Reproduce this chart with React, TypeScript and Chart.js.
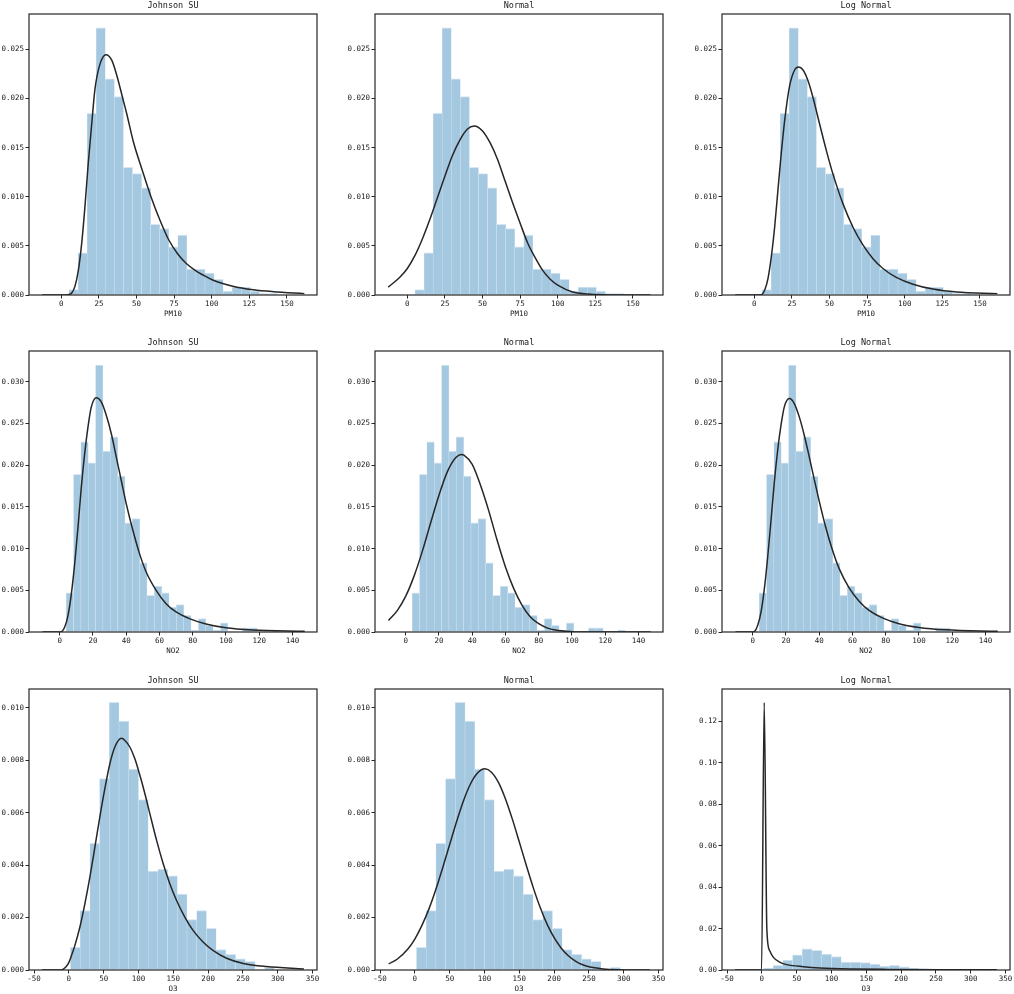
import React, { useEffect, useRef } from 'react';
import { Chart, registerables } from 'chart.js';

Chart.register(...registerables);

// ---------- PM10 ----------
const PM10_BIN_START = 5.1;
const PM10_BIN_WIDTH = 6.03;
const PM10_DENSITY = [0.00055, 0.0043, 0.0185, 0.0272, 0.022, 0.0202, 0.013, 0.01235, 0.0109, 0.0072, 0.00675, 0.0049, 0.0061, 0.00265, 0.00265, 0.00224, 0.0016, 0.0004, 0.0008, 0.0008, 0.0004, 0.00014, 0.00014];

const PM10_JSU_X = [-12.7, 0, 4.5, 6.9, 9.1, 11.3, 13.5, 15.7, 17.9, 20.2, 22.4, 25.7, 29.7, 33.5, 36.8, 41.2, 43.4, 47.9, 53.8, 59.6, 65.6, 71.1, 77.3, 83.1, 89, 94.6, 101, 114, 127.6, 141, 161.6];
const PM10_JSU_Y = [0, 0, 0.00002, 0.0002, 0.0009, 0.0025, 0.0052, 0.009, 0.0134, 0.0174, 0.021, 0.0235, 0.02446, 0.0239, 0.0224, 0.0198, 0.0185, 0.0156, 0.0127, 0.01, 0.0076, 0.0057, 0.0042, 0.0032, 0.0025, 0.002, 0.0015, 0.0009, 0.00054, 0.00034, 0.00014];

const PM10_NORM_X = [-12.7, -5, 0, 5, 10, 15, 20, 25, 30, 35, 40, 44.5, 50, 55, 60, 65, 70, 75, 80, 85, 90, 95, 100, 110, 120, 130, 140, 161.6];
const PM10_NORM_Y = [0.0008, 0.0018, 0.0027, 0.004, 0.0057, 0.0077, 0.0099, 0.0121, 0.0142, 0.0158, 0.0169, 0.0172, 0.0167, 0.0155, 0.0138, 0.0116, 0.0094, 0.0073, 0.0053, 0.0038, 0.0025, 0.0016, 0.001, 0.0003, 0.0001, 0.00002, 0, 0];

const PM10_LN_X = [-12.7, 0, 4.7, 6.9, 9.1, 11.3, 13.5, 15.7, 17.9, 20.2, 23.5, 26.8, 29.5, 32.4, 35.7, 39, 43.4, 47.9, 52.3, 58.9, 65.6, 72.2, 78.9, 85.5, 94.4, 105.5, 118.8, 134.3, 161.6];
const PM10_LN_Y = [0, 0, 0.00003, 0.0005, 0.0017, 0.0039, 0.0069, 0.0107, 0.0144, 0.0178, 0.0213, 0.0229, 0.0232, 0.0229, 0.0218, 0.0201, 0.0174, 0.0147, 0.0123, 0.0093, 0.0069, 0.0051, 0.0037, 0.0027, 0.0018, 0.0011, 0.0006, 0.0003, 0.00014];

// ---------- NO2 ----------
const NO2_BIN_START = 3.9;
const NO2_BIN_WIDTH = 4.42;
const NO2_DENSITY = [0.0047, 0.0189, 0.0228, 0.0203, 0.032, 0.0217, 0.0234, 0.0187, 0.0131, 0.0136, 0.0083, 0.0044, 0.0055, 0.0047, 0.003, 0.0033, 0.002, 0.0002, 0.0016, 0.0008, 0.0002, 0.0011, 0, 0, 0.0005, 0.0005, 0, 0, 0.0002];

const NO2_JSU_X = [-10.4, 0, 1, 3, 5, 7, 9, 11, 13, 15, 17, 19, 22, 25, 28, 31, 34, 37, 40, 44, 48, 52, 58, 64, 70, 78, 88, 100, 116, 147.4];
const NO2_JSU_Y = [0, 0, 0.00003, 0.0006, 0.002, 0.0046, 0.0082, 0.0126, 0.0174, 0.0214, 0.0246, 0.027, 0.0281, 0.0276, 0.026, 0.0238, 0.021, 0.0182, 0.0154, 0.0122, 0.0094, 0.0072, 0.005, 0.0034, 0.0024, 0.0016, 0.00096, 0.0005, 0.00024, 0.00008];

const NO2_NORM_X = [-10.4, -5, 0, 5, 10, 15, 20, 25, 30, 33.5, 35, 40, 45, 50, 55, 60, 65, 70, 75, 80, 85, 90, 100, 110, 147.4];
const NO2_NORM_Y = [0.00137, 0.0026, 0.0043, 0.0067, 0.0097, 0.0131, 0.0164, 0.0192, 0.0209, 0.0213, 0.0212, 0.0201, 0.0176, 0.0145, 0.011, 0.0078, 0.0052, 0.0032, 0.0018, 0.001, 0.0005, 0.00023, 0.00004, 0, 0];

const NO2_LN_X = [-10.4, 0, 1, 3, 5, 7, 9, 11, 13, 15, 17, 19, 22, 25, 28, 31, 34, 37, 40, 44, 48, 52, 58, 64, 70, 78, 88, 100, 116, 147.4];
const NO2_LN_Y = [0, 0, 0.00005, 0.0008, 0.0024, 0.0052, 0.009, 0.0134, 0.018, 0.0218, 0.0248, 0.027, 0.028, 0.0274, 0.0258, 0.0236, 0.021, 0.0183, 0.0157, 0.0125, 0.0098, 0.0076, 0.0053, 0.0037, 0.0026, 0.0017, 0.001, 0.00055, 0.00026, 0.00008];

// ---------- O3 ----------
const O3_BIN_START = 2.4;
const O3_BIN_WIDTH = 13.94;
const O3_DENSITY = [0.00086, 0.00226, 0.00483, 0.0073, 0.0102, 0.00949, 0.00766, 0.0065, 0.00377, 0.00385, 0.00359, 0.00289, 0.00192, 0.00226, 0.00159, 0.00078, 0.0006, 0.00043, 0.00033, 0, 0.0001];

const O3_JSU_X = [-38.4, -10.5, -5.7, -1, 3.8, 8.6, 15.8, 23, 30.2, 37.4, 44.5, 51.7, 58.9, 66.1, 75.7, 80.5, 87.6, 94.8, 102, 109.2, 116.4, 126, 135.5, 145.1, 154.7, 166.7, 178.6, 193, 207.4, 226.5, 250.5, 284, 337.5];
const O3_JSU_Y = [0, 0, 0.00008, 0.00023, 0.00055, 0.00093, 0.00163, 0.00252, 0.00354, 0.00468, 0.00583, 0.00691, 0.00786, 0.0085, 0.00883, 0.00875, 0.0085, 0.00805, 0.00742, 0.00672, 0.00595, 0.00494, 0.00405, 0.00328, 0.00265, 0.00201, 0.0015, 0.00106, 0.00074, 0.00045, 0.00025, 0.00013, 0.00004];

const O3_NORM_X = [-37.6, -25, -10, 0, 10, 20, 30, 40, 50, 60, 70, 80, 90, 100.5, 110, 120, 130, 140, 150, 160, 170, 180, 190, 200, 210, 220, 230, 240, 250, 270, 290, 337.5];
const O3_NORM_Y = [0.00023, 0.00042, 0.0008, 0.00118, 0.00169, 0.00231, 0.00306, 0.0039, 0.00478, 0.00566, 0.00646, 0.0071, 0.00751, 0.00767, 0.00754, 0.00715, 0.00653, 0.00575, 0.00488, 0.00399, 0.00314, 0.00238, 0.00174, 0.00123, 0.00084, 0.00055, 0.00035, 0.00021, 0.00012, 0.00004, 0.00001, 0];

const O3_LN_X = [-38.4, -0.4, 3.4, 7.2, 11, 16.6, 26.2, 35.7, 59.6, 83.4, 131, 179, 274, 337.5];
const O3_LN_Y = [0, 0, 0.1291, 0.0195, 0.0095, 0.0061, 0.0037, 0.0026, 0.0016, 0.001, 0.0005, 0.0003, 0.00015, 0.0001];

// ---------- axes ----------
const FIT_TITLES = ['Johnson SU', 'Normal', 'Log Normal'];
const VAR_LABELS = ['PM10', 'NO2', 'O3'];
const X_RANGES = [[-21.5, 170], [-18.5, 154.8], [-57.2, 356.3]];
const X_STEPS = [25, 20, 50];
const Y_MAXES = [[0.0286, 0.0286, 0.0286], [0.0337, 0.0337, 0.0337], [0.01071, 0.01071, 0.1356]];
const Y_STEPS = [[0.005, 0.005, 0.005], [0.005, 0.005, 0.005], [0.002, 0.002, 0.02]];
const Y_DECIMALS = [[3, 3, 3], [3, 3, 3], [3, 3, 2]];

// ---------- layout ----------
const PLOT_LEFT = [29, 375, 722];
const PLOT_TOP = [14, 351, 689];
const PLOT_W = 288;
const PLOT_H = 281;
const AXIS_W = 36;
const TITLE_H = 14;
const RIGHT_PAD = 8;
const XAXIS_H = 24;

const FONT = 'DejaVu Sans Mono';
const INK = '#262626';

type PanelSpec = {
  row: number;
  col: number;
  binStart: number;
  binWidth: number;
  density: number[];
  cx: number[];
  cy: number[];
};

const PANELS: PanelSpec[] = [
  { row: 0, col: 0, binStart: PM10_BIN_START, binWidth: PM10_BIN_WIDTH, density: PM10_DENSITY, cx: PM10_JSU_X, cy: PM10_JSU_Y },
  { row: 0, col: 1, binStart: PM10_BIN_START, binWidth: PM10_BIN_WIDTH, density: PM10_DENSITY, cx: PM10_NORM_X, cy: PM10_NORM_Y },
  { row: 0, col: 2, binStart: PM10_BIN_START, binWidth: PM10_BIN_WIDTH, density: PM10_DENSITY, cx: PM10_LN_X, cy: PM10_LN_Y },
  { row: 1, col: 0, binStart: NO2_BIN_START, binWidth: NO2_BIN_WIDTH, density: NO2_DENSITY, cx: NO2_JSU_X, cy: NO2_JSU_Y },
  { row: 1, col: 1, binStart: NO2_BIN_START, binWidth: NO2_BIN_WIDTH, density: NO2_DENSITY, cx: NO2_NORM_X, cy: NO2_NORM_Y },
  { row: 1, col: 2, binStart: NO2_BIN_START, binWidth: NO2_BIN_WIDTH, density: NO2_DENSITY, cx: NO2_LN_X, cy: NO2_LN_Y },
  { row: 2, col: 0, binStart: O3_BIN_START, binWidth: O3_BIN_WIDTH, density: O3_DENSITY, cx: O3_JSU_X, cy: O3_JSU_Y },
  { row: 2, col: 1, binStart: O3_BIN_START, binWidth: O3_BIN_WIDTH, density: O3_DENSITY, cx: O3_NORM_X, cy: O3_NORM_Y },
  { row: 2, col: 2, binStart: O3_BIN_START, binWidth: O3_BIN_WIDTH, density: O3_DENSITY, cx: O3_LN_X, cy: O3_LN_Y },
];

const framePlugin = {
  id: 'panelFrame',
  afterDraw(chart: any, _args: any, opts: any) {
    const { ctx, chartArea } = chart;
    const { left, top, right, bottom } = chartArea;
    ctx.save();
    ctx.strokeStyle = INK;
    ctx.lineWidth = 1.2;
    ctx.strokeRect(left, top, right - left, bottom - top);
    ctx.fillStyle = '#1a1a1a';
    ctx.font = `8.5px "${FONT}"`;
    ctx.textAlign = 'center';
    ctx.textBaseline = 'middle';
    ctx.fillText(opts.text || '', (left + right) / 2, top - 8.5);
    ctx.restore();
  },
};

function Panel({ spec }: { spec: PanelSpec }) {
  const ref = useRef<HTMLCanvasElement | null>(null);
  const { row, col } = spec;
  const cw = AXIS_W + PLOT_W + RIGHT_PAD;
  const ch = TITLE_H + PLOT_H + XAXIS_H;
  const left = PLOT_LEFT[col] - AXIS_W;
  const top = PLOT_TOP[row] - TITLE_H;

  useEffect(() => {
    if (!ref.current) return;
    const bars = spec.density.map((d, i) => ({ x: spec.binStart + (i + 0.5) * spec.binWidth, y: d }));
    const curve = spec.cx.map((x, i) => ({ x, y: spec.cy[i] }));
    const dec = Y_DECIMALS[row][col];
    const tickFont = { family: FONT, size: 7.5 };
    const chart = new Chart(ref.current, {
      type: 'bar',
      data: {
        datasets: [
          {
            type: 'line',
            data: curve,
            borderColor: INK,
            borderWidth: 1.5,
            pointRadius: 0,
            fill: false,
            cubicInterpolationMode: 'monotone',
            order: 0,
          } as any,
          {
            type: 'bar',
            data: bars,
            backgroundColor: '#a5c8e1',
            borderColor: '#d6e6f2',
            borderWidth: { top: 1, left: 0.5, right: 0.5, bottom: 0 },
            barPercentage: 1,
            categoryPercentage: 1,
            order: 1,
          } as any,
        ],
      },
      options: {
        responsive: false,
        animation: false,
        events: [],
        layout: { padding: { left: 0, top: TITLE_H, right: RIGHT_PAD, bottom: 0 } },
        plugins: {
          legend: { display: false },
          tooltip: { enabled: false },
          title: { display: false },
          panelFrame: { text: FIT_TITLES[col] },
        } as any,
        scales: {
          x: {
            type: 'linear',
            min: X_RANGES[row][0],
            max: X_RANGES[row][1],
            offset: false,
            grid: { display: true, drawOnChartArea: false, drawTicks: true, tickLength: 3.5, color: INK, offset: false },
            border: { display: false },
            ticks: {
              stepSize: X_STEPS[row],
              includeBounds: false,
              autoSkip: false,
              maxRotation: 0,
              padding: 1.5,
              color: '#1a1a1a',
              font: tickFont,
              callback: (v: any) => String(Number(v)),
            },
            title: { display: true, text: VAR_LABELS[row], color: '#1a1a1a', font: tickFont, padding: { top: 0, bottom: 0 } },
            afterFit: (s: any) => { s.height = XAXIS_H; },
          },
          y: {
            type: 'linear',
            min: 0,
            max: Y_MAXES[row][col],
            grid: { display: true, drawOnChartArea: false, drawTicks: true, tickLength: 3.5, color: INK },
            border: { display: false },
            ticks: {
              stepSize: Y_STEPS[row][col],
              includeBounds: false,
              autoSkip: false,
              padding: 1.5,
              color: '#1a1a1a',
              font: tickFont,
              callback: (v: any) => Number(v).toFixed(dec),
            },
            afterFit: (s: any) => { s.width = AXIS_W; },
          },
        },
      } as any,
      plugins: [framePlugin],
    });
    return () => chart.destroy();
  }, []);

  return (
    <canvas
      ref={ref}
      width={cw}
      height={ch}
      style={{ position: 'absolute', left, top, width: cw, height: ch, display: 'block' }}
    />
  );
}

export default function App() {
  return (
    <div
      style={{
        position: 'absolute',
        left: 0,
        top: 0,
        width: 1014,
        height: 994,
        overflow: 'hidden',
        background: '#ffffff',
      }}
    >
      {PANELS.map((p) => (
        <Panel key={`${p.row}-${p.col}`} spec={p} />
      ))}
    </div>
  );
}
